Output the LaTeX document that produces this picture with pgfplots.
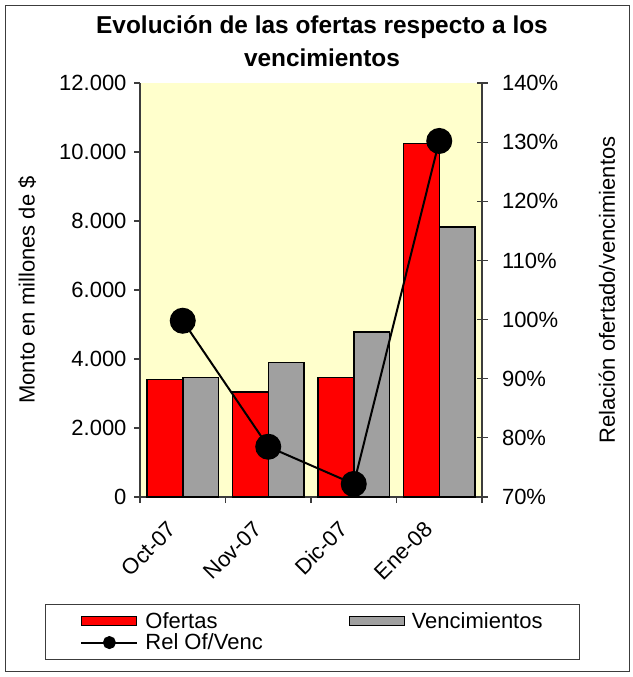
\documentclass[border=0pt]{standalone}
\usepackage{pgfplots}
\pgfplotsset{compat=1.18}
\usepackage{fontspec}
\setmainfont{Liberation Sans}
\definecolor{bgyellow}{RGB}{255,255,204}
\definecolor{vgray}{RGB}{160,160,160}
\definecolor{axgray}{RGB}{60,60,60}
\pgfplotsset{
  barlegend/.style={legend image code/.code={\draw[##1, line width=1bp] (0bp,-4.5bp) rectangle (55bp,4.5bp);}},
  linelegend/.style={legend image code/.code={\draw[black, line width=2bp] (0bp,0bp) -- (56bp,0bp); \fill[black] (28bp,0bp) circle (5.5bp);}},
}
\begin{document}
\begin{tikzpicture}[font=\fontsize{22bp}{25bp}\selectfont]
\useasboundingbox (0,0) rectangle (633bp,-677bp);
\draw[axgray, line width=1bp] (5.5bp,-5.5bp) rectangle (629.5bp,-671.5bp);
\node[anchor=base, font=\bfseries\fontsize{24.4bp}{28bp}\selectfont] at (322bp,-33bp) {Evolución de las ofertas respecto a los};
\node[anchor=base, font=\bfseries\fontsize{24.4bp}{28bp}\selectfont] at (322bp,-66bp) {vencimientos};
\begin{axis}[
  at={(140bp,-497bp)}, anchor=south west,
  scale only axis, width=342bp, height=414bp,
  axis background/.style={fill=bgyellow},
  axis x line*=bottom, axis y line*=left,
  axis line style={axgray, line width=1.2bp},
  tick style={axgray, line width=1.2bp},
  major tick length=6bp, tick align=outside,
  xmin=-0.5, xmax=3.5, ymin=0, ymax=12000,
  ytick={0,2000,...,12000},
  scaled y ticks=false,
  /pgf/number format/1000 sep={.},
  /pgf/number format/assume math mode=true,
  yticklabel style={xshift=-4bp},
  xtick={-0.5,0.5,1.5,2.5,3.5}, xticklabels={,,,,},
  extra x ticks={0,1,2,3},
  extra x tick labels={Oct-07,Nov-07,Dic-07,Ene-08},
  extra x tick style={major tick length=0pt, xticklabel style={xshift=-16bp, yshift=-18bp, rotate=45, anchor=north east}},
  ybar=0pt, bar width=0.42,
  ylabel={Monto en millones de \$},
  ylabel style={at={(axis description cs:-0.330,0.5)}, anchor=center},
  legend columns=2,
  legend cell align=left,
  legend style={at={(-0.2778,-0.2585)}, anchor=north west, draw=axgray, line width=0.8bp,
    inner xsep=35bp, inner ysep=6bp, row sep=0bp,
    /tikz/every odd column/.style={column sep=5bp},
    /tikz/every even column/.style={column sep=84bp},
    font=\fontsize{22bp}{21bp}\selectfont},
]
\addplot[fill=red, draw=black, line width=1.5bp, barlegend]
  coordinates {(0,3400) (1,3050) (2,3470) (3,10240)};
\addlegendentry{Ofertas}
\addplot[fill=vgray, draw=black, line width=1.5bp, barlegend]
  coordinates {(0,3470) (1,3900) (2,4780) (3,7830)};
\addlegendentry{Vencimientos}
\addlegendimage{black, line width=2bp, linelegend}
\addlegendentry{Rel Of/Venc}
\end{axis}
\begin{axis}[
  at={(140bp,-497bp)}, anchor=south west,
  scale only axis, width=342bp, height=414bp,
  axis y line*=right, axis x line=none,
  axis line style={axgray, line width=1.2bp},
  tick style={axgray, line width=1.2bp},
  major tick length=11bp, tick align=center,
  xmin=-0.5, xmax=3.5, ymin=70, ymax=140,
  ytick={70,80,...,140},
  /pgf/number format/assume math mode=true,
  yticklabel={\pgfmathprintnumber{\tick}\%},
  yticklabel style={xshift=11bp},
  ylabel={Relación ofertado/vencimientos},
  ylabel style={at={(axis description cs:1.365,0.5)}, anchor=center},
]
\addplot[black, line width=2bp, mark=*, mark size=12bp, mark options={fill=black}]
  coordinates {(0,99.8) (1,78.5) (2,72.2) (3,130.2)};
\end{axis}
\end{tikzpicture}
\end{document}
